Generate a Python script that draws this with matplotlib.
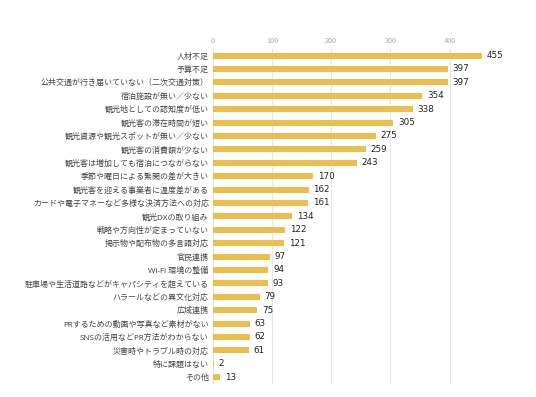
import matplotlib
matplotlib.use("Agg")
import matplotlib.pyplot as plt
import numpy as np

plt.rcParams['font.family'] = ['Noto Sans CJK JP', 'DejaVu Sans']

categories = [
    "人材不足", "予算不足", "公共交通が行き届いていない（二次交通対策）",
    "宿泊施設が無い／少ない", "観光地としての認知度が低い", "観光客の滞在時間が短い",
    "観光資源や観光スポットが無い／少ない", "観光客の消費額が少ない",
    "観光客は増加しても宿泊につながらない", "季節や曜日による繁閑の差が大きい",
    "観光客を迎える事業者に温度差がある", "カードや電子マネーなど多様な決済方法への対応",
    "観光DXの取り組み", "戦略や方向性が定まっていない", "掲示物や配布物の多言語対応",
    "官民連携", "Wi-Fi 環境の整備", "駐車場や生活道路などがキャパシティを超えている",
    "ハラールなどの異文化対応", "広域連携", "PRするための動画や写真など素材がない",
    "SNSの活用などPR方法がわからない", "災害時やトラブル時の対応", "特に課題はない", "その他",
]
values = [455, 397, 397, 354, 338, 305, 275, 259, 243, 170, 162, 161, 134,
          122, 121, 97, 94, 93, 79, 75, 63, 62, 61, 2, 13]
xticks = [0, 100, 200, 300, 400]

fig = plt.figure(figsize=(5.36, 3.97), dpi=100)
ax = fig.add_axes([0.397, 0.033, 0.517, 0.844])

y = np.arange(len(categories))
ax.barh(y, values, height=0.45, color="#EBBE4E", zorder=2)
for yi, v in zip(y, values):
    ax.text(v + 8, yi, str(v), va="center", ha="left", fontsize=6.3,
            color="#222222", family=['DejaVu Sans'])

ax.set_ylim(len(categories) - 0.5, -0.5)
ax.set_xlim(0, 468)
ax.set_yticks(y)
ax.set_yticklabels(categories, fontsize=5.75, color="#444444",
                   family=['Noto Sans', 'Noto Sans CJK JP'])
ax.set_xticks(xticks)
ax.set_xticklabels([str(t) for t in xticks], fontsize=5.2, color="#aaaaaa")
ax.xaxis.tick_top()
ax.tick_params(axis="both", length=0)
ax.tick_params(axis="x", pad=3)
ax.tick_params(axis="y", pad=3)
ax.grid(axis="x", color="#e6e6e6", linewidth=0.8, zorder=0)
for s in ax.spines.values():
    s.set_visible(False)

plt.savefig("out.png", dpi=100)
